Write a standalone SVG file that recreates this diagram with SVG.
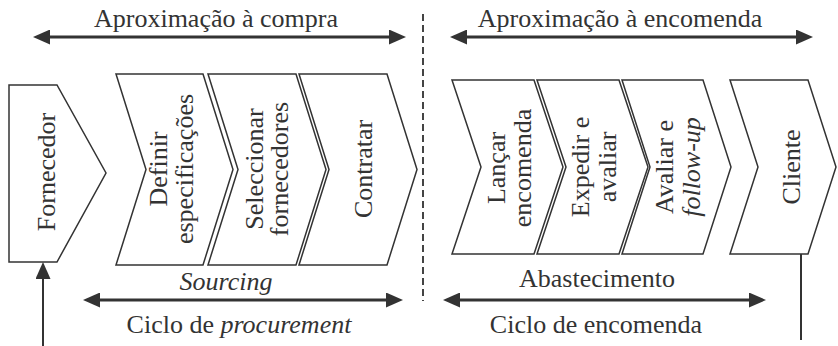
<svg xmlns="http://www.w3.org/2000/svg" width="838" height="346" viewBox="0 0 838 346">
<style>
.shape{fill:#fff;stroke:#333;stroke-width:1.5;stroke-linejoin:miter}
.t{font-family:"Liberation Serif","Times New Roman",serif;font-size:26px;fill:#333;text-anchor:middle}
.i{font-style:italic}
.arr{stroke:#333;stroke-width:3;fill:none}
.ln{stroke:#333;stroke-width:2;fill:none}
.dash{stroke:#444;stroke-width:2;stroke-dasharray:7 4;fill:none}
</style>
<defs>
<marker id="ah" viewBox="0 0 17 15" refX="6" refY="7.5" markerWidth="17" markerHeight="15" markerUnits="userSpaceOnUse" orient="auto-start-reverse">
<path d="M0,0 L17,7.5 L0,15 z" fill="#333"/>
</marker>
</defs>
<rect width="838" height="346" fill="#fff"/>

<g id="fornecedor">
<polygon class="shape" points="9,85 57,85 106,173 57,262 9,262"/>
<text class="t" transform="translate(55,172) rotate(-90)">Fornecedor</text>
</g>
<g id="definir">
<polygon class="shape" points="116,74 203,74 233,169.5 203,265 116,265 146,169.5"/>
<text class="t" transform="translate(167,169) rotate(-90)">Definir</text>
<text class="t" transform="translate(193,169) rotate(-90)">especificações</text>
</g>
<g id="seleccionar">
<polygon class="shape" points="208,74 296,74 326,169.5 296,265 208,265 238,169.5"/>
<text class="t" transform="translate(263,169) rotate(-90)">Seleccionar</text>
<text class="t" transform="translate(288,169) rotate(-90)">fornecedores</text>
</g>
<g id="contratar">
<polygon class="shape" points="299,74 387,74 417,169.5 387,265 299,265 329,169.5"/>
<text class="t" transform="translate(372,169) rotate(-90)">Contratar</text>
</g>
<g id="lancar">
<polygon class="shape" points="452,80 534,80 563,167 534,254 452,254 481,167"/>
<text class="t" transform="translate(505,168) rotate(-90)">Lançar</text>
<text class="t" transform="translate(531,168) rotate(-90)">encomenda</text>
</g>
<g id="expedir">
<polygon class="shape" points="537,80 619,80 648,167 619,254 537,254 566,167"/>
<text class="t" transform="translate(589,167) rotate(-90)">Expedir e</text>
<text class="t" transform="translate(616,167) rotate(-90)">avaliar</text>
</g>
<g id="avaliar">
<polygon class="shape" points="622,80 703,80 731,167 703,254 622,254 650,167"/>
<text class="t" transform="translate(673,167) rotate(-90)">Avaliar e</text>
<text class="t i" transform="translate(700,167) rotate(-90)">follow-up</text>
</g>
<g id="cliente">
<polygon class="shape" points="730,80 808,80 836,167 808,254 730,254 758,167"/>
<text class="t" transform="translate(800,167) rotate(-90)">Cliente</text>
</g>

<g id="connectors">
<line class="dash" x1="423" y1="14" x2="423" y2="301"/>
<line class="arr" x1="44" y1="37" x2="395" y2="37" marker-start="url(#ah)" marker-end="url(#ah)"/>
<line class="arr" x1="461" y1="37" x2="802" y2="37" marker-start="url(#ah)" marker-end="url(#ah)"/>
<line class="arr" x1="94" y1="300" x2="392" y2="300" marker-start="url(#ah)" marker-end="url(#ah)"/>
<line class="arr" x1="454" y1="300" x2="755" y2="300" marker-start="url(#ah)" marker-end="url(#ah)"/>
<line class="ln" x1="43" y1="346" x2="43" y2="273" marker-end="url(#ah)"/>
<line class="ln" x1="801" y1="254" x2="801" y2="340"/>
</g>

<g id="labels">
<text class="t" x="216" y="27">Aproximação à compra</text>
<text class="t" x="620" y="27">Aproximação à encomenda</text>
<text class="t i" x="226" y="290">Sourcing</text>
<text class="t" x="597" y="287">Abastecimento</text>
<text class="t" x="239" y="333">Ciclo de <tspan class="i">procurement</tspan></text>
<text class="t" x="596" y="333">Ciclo de encomenda</text>
</g>
</svg>
